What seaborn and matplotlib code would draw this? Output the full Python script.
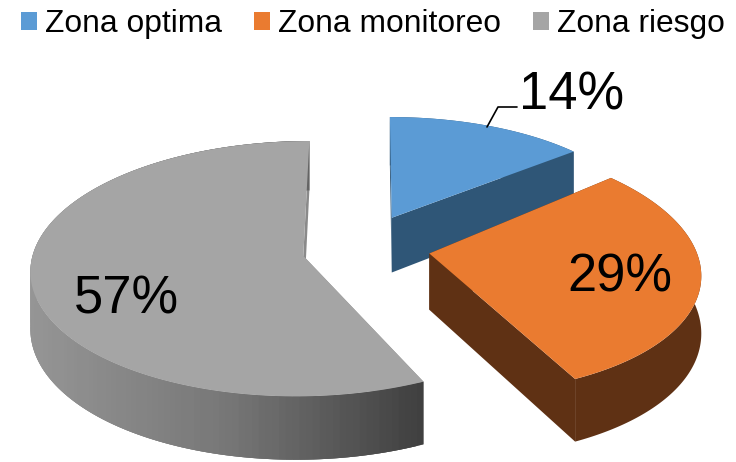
import numpy as np
import seaborn as sns
import matplotlib
matplotlib.use("Agg")
import matplotlib.pyplot as plt
from matplotlib.patches import Patch

categories = ['Zona optima', 'Zona monitoreo', 'Zona riesgo']
values = [14, 29, 57]
pct_labels = ['14%', '29%', '57%']

sns.set_theme(style="white")
plt.rcParams['font.family'] = ['Liberation Sans', 'DejaVu Sans']

top_colors = sns.color_palette(['#5b9bd5', '#ea7b30', '#a5a5a5'])
side_colors = sns.color_palette(['#2f5677', '#5f3114', '#8a8a8a'])
grey_ramp = sns.blend_palette(['#959595', '#777777', '#3f3f3f'], 80)

# vista del pastel en pixeles
cx, cy, rx, ry, k = 372, 250, 272, 125, 0.1
explode = [0.2, 0.2, 0.25]
shift_x = [-3, 4, -2]
shift_y = [-10, -2, -1]
scale_x = [0.94, 0.98, 0.99]
scale_y = [0.91, 1, 1]
shear = [0, 0.12, 0]


def project(u, v):
    s = 1 + k * v
    return cx + rx * u / s, cy - ry * v / s


def depth(v):
    return 56 - 7 * v


fig = plt.figure(figsize=(7.36, 4.62), dpi=100)
ax = fig.add_axes([0, 0, 1, 1])
ax.set_xlim(0, 736)
ax.set_ylim(462, 0)
ax.axis('off')

angles = np.cumsum([0] + values) / sum(values) * 2 * np.pi

for i in [2, 0, 1]:
    a0, a1 = angles[i], angles[i + 1]
    mid = (a0 + a1) / 2
    ou, ov = explode[i] * np.sin(mid), explode[i] * np.cos(mid)
    t = np.linspace(a0, a1, 160)
    u = ou + scale_x[i] * np.sin(t)
    v = ov + scale_y[i] * np.cos(t)
    x, y = project(u, v)
    d = depth(v)
    px, py = project(ou, ov)
    x = x + shift_x[i] + shear[i] * (y - py)
    y = y + shift_y[i]
    px, py = px + shift_x[i], py + shift_y[i]
    pd = depth(ov)

    # caras radiales
    ax.fill([px, x[0], x[0], px], [py, y[0], y[0] + d[0], py + pd],
            color=side_colors[i], lw=0)
    ax.fill([px, x[-1], x[-1], px], [py, y[-1], y[-1] + d[-1], py + pd],
            color=side_colors[i], lw=0)

    # lateral curvo
    ax.fill(np.r_[x, x[::-1]], np.r_[y, (y + d)[::-1]], color=side_colors[i], lw=0)
    if i == 2:
        for j in range(len(t) - 2):
            f = np.clip((x[j] - 30) / 395, 0, 1)
            ax.fill([x[j], x[j + 2], x[j + 2], x[j]],
                    [y[j], y[j + 2], y[j + 2] + d[j + 2], y[j] + d[j]],
                    color=grey_ramp[int(f * 79)], lw=0)

    # cara superior
    ax.fill(np.r_[px, x], np.r_[py, y], color=top_colors[i], lw=0)

ax.plot([487, 498, 517], [127, 107, 107], color='black', lw=1.2)
ax.text(572, 96, pct_labels[0], fontsize=37.8, ha='center', va='center', color='black')
ax.text(620, 278, pct_labels[1], fontsize=37.8, ha='center', va='center', color='black')
ax.text(126, 300, pct_labels[2], fontsize=37.8, ha='center', va='center', color='black')

handles = [Patch(color=c, lw=0) for c in top_colors]
fig.legend(handles, categories, ncol=3, loc='center', bbox_to_anchor=(373 / 736, 1 - 24 / 462),
           frameon=False, fontsize=22.9, handlelength=0.5, handleheight=0.5,
           handletextpad=0.25, columnspacing=1.0, borderpad=0, labelcolor='black')

fig.savefig('out.png', dpi=100)
